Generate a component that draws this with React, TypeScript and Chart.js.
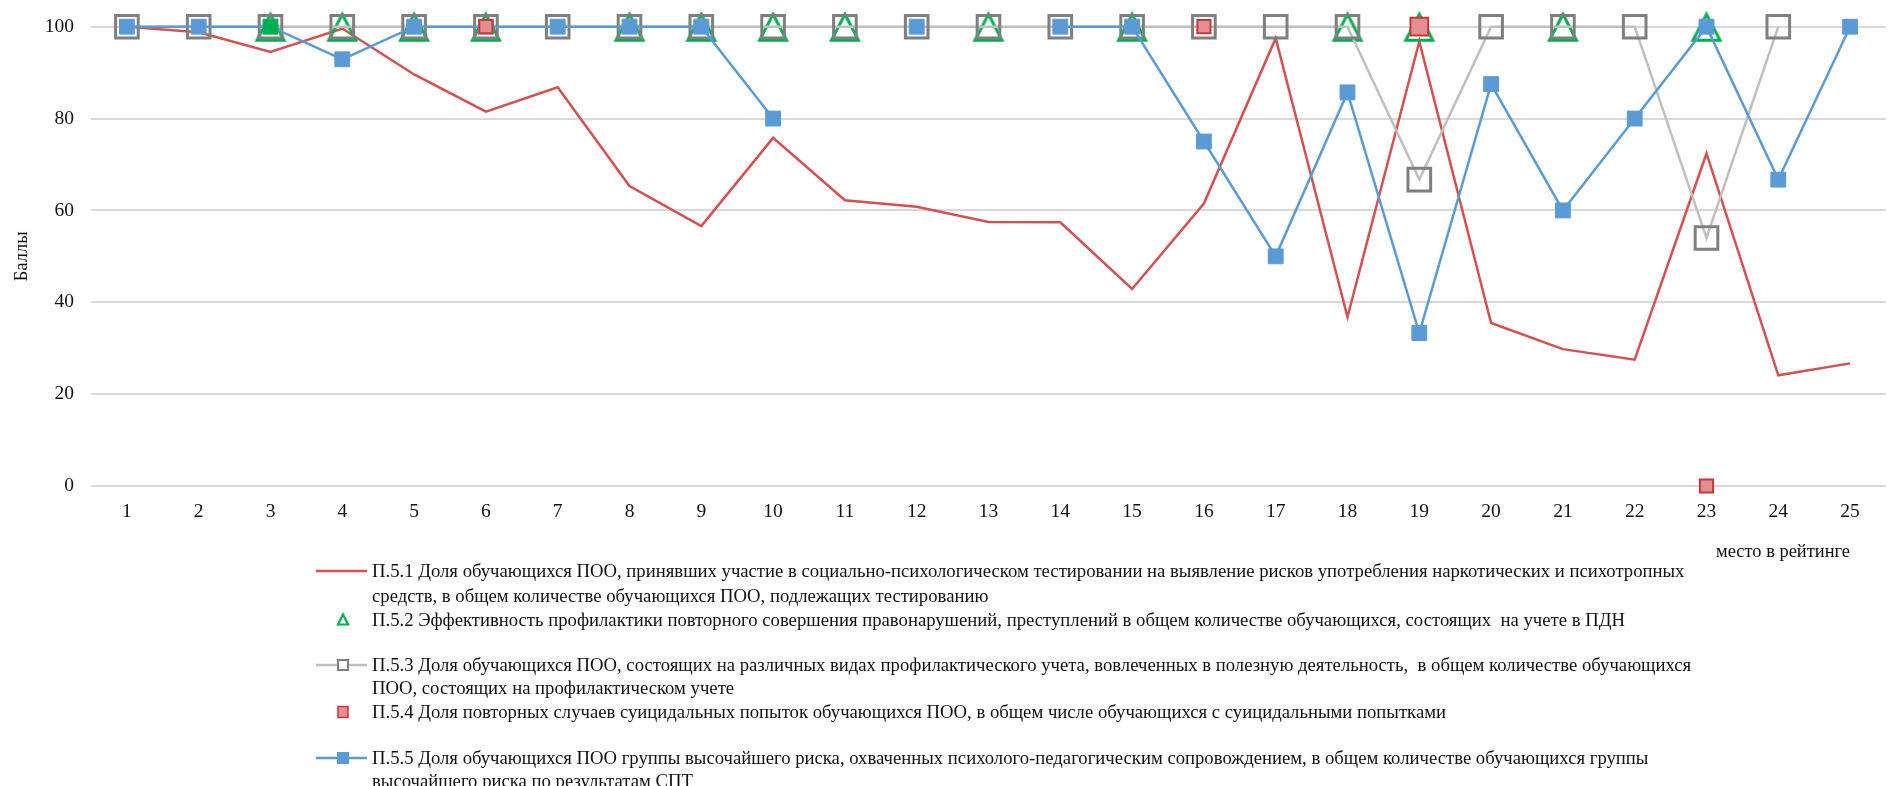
import React, { useEffect, useRef } from "react";
import { Chart, registerables } from "chart.js";

Chart.register(...registerables);

// ---------- data ----------
const places: string[] = [
  "1", "2", "3", "4", "5", "6", "7", "8", "9", "10", "11", "12", "13",
  "14", "15", "16", "17", "18", "19", "20", "21", "22", "23", "24", "25",
];

const p51: (number | null)[] = [
  100, 98.8, 94.5, 99.6, 89.6, 81.5, 86.8, 65.3, 56.6, 75.8, 62.2, 60.8, 57.5,
  57.4, 42.9, 61.5, 97.5, 36.8, 96.8, 35.5, 29.8, 27.5, 72.4, 24.1, 26.7,
];

const p52: (number | null)[] = [
  null, null, 100, 100, 100, 100, null, 100, 100, 100, 100, null, 100,
  null, 100, null, null, 100, 100, null, 100, null, 100, null, null,
];

const p53: (number | null)[] = [
  100, 100, 100, 100, 100, 100, 100, 100, 100, 100, 100, 100, 100,
  100, 100, 100, 100, 100, 66.7, 100, 100, 100, 54, 100, null,
];

const p54: (number | null)[] = [
  null, null, null, null, null, 100, null, null, null, null, null, null, null,
  null, null, 100, null, null, 100, null, null, null, 0, null, null,
];

const p55: (number | null)[] = [
  100, 100, 100, 92.9, 100, 100, 100, 100, 100, 80, null, 100, null,
  100, 100, 75, 50, 85.7, 33.3, 87.5, 60, 80, 100, 66.7, 100,
];

const yTicks: number[] = [0, 20, 40, 60, 80, 100];

const seriesNames: string[][] = [
  [
    "П.5.1 Доля обучающихся ПОО, принявших участие в социально-психологическом тестировании на выявление рисков употребления наркотических и психотропных",
    "средств, в общем количестве обучающихся ПОО, подлежащих тестированию",
  ],
  [
    "П.5.2 Эффективность профилактики повторного совершения правонарушений, преступлений в общем количестве обучающихся, состоящих  на учете в ПДН",
  ],
  [
    "П.5.3 Доля обучающихся ПОО, состоящих на различных видах профилактического учета, вовлеченных в полезную деятельность,  в общем количестве обучающихся",
    "ПОО, состоящих на профилактическом учете",
  ],
  [
    "П.5.4 Доля повторных случаев суицидальных попыток обучающихся ПОО, в общем числе обучающихся с суицидальными попытками",
  ],
  [
    "П.5.5 Доля обучающихся ПОО группы высочайшего риска, охваченных психолого-педагогическим сопровождением, в общем количестве обучающихся группы",
    "высочайшего риска по результатам СПТ",
  ],
];

const yTitle = "Баллы";
const xTitle = "место в рейтинге";

// ---------- styles ----------
const FONT = "'Liberation Serif', 'Times New Roman', serif";
const TEXT = "#111111";
const RED = "#d65050";
const GREEN = "#00b050";
const GREY_LINE = "#bfbfbf";
const GREY_MARK = "#7f7f7f";
const SQ_FILL = "#e38f8f";
const SQ_BORDER = "#c8363b";
const BLUE = "#5b9bd5";

const W = 1905;
const H = 786;
const LEGEND_FONT = 18.7;

function makeTriangle(color: string): HTMLCanvasElement {
  const c = document.createElement("canvas");
  c.width = 40;
  c.height = 40;
  const ctx = c.getContext("2d")!;
  ctx.strokeStyle = color;
  ctx.lineWidth = 3;
  ctx.lineJoin = "miter";
  ctx.beginPath();
  ctx.moveTo(20, 7.5);
  ctx.lineTo(33.5, 33.5);
  ctx.lineTo(6.5, 33.5);
  ctx.closePath();
  ctx.stroke();
  return c;
}

function Symbol({ kind }: { kind: number }) {
  const w = 51;
  const h = 20;
  const cx = 27;
  const cy = 10;
  if (kind === 0)
    return (
      <svg width={w} height={h}>
        <line x1={0} y1={cy} x2={w} y2={cy} stroke={RED} strokeWidth={2.5} />
      </svg>
    );
  if (kind === 1)
    return (
      <svg width={w} height={h}>
        <polygon
          points={`${cx},${cy - 5.5} ${cx + 5},${cy + 4.5} ${cx - 5},${cy + 4.5}`}
          fill="none"
          stroke={GREEN}
          strokeWidth={2.2}
        />
      </svg>
    );
  if (kind === 2)
    return (
      <svg width={w} height={h}>
        <line x1={0} y1={cy} x2={w} y2={cy} stroke={GREY_LINE} strokeWidth={2.5} />
        <rect x={cx - 5} y={cy - 5} width={10} height={10} fill="#fff" stroke={GREY_MARK} strokeWidth={2} />
      </svg>
    );
  if (kind === 3)
    return (
      <svg width={w} height={h}>
        <rect x={cx - 5} y={cy - 5.5} width={10} height={11} fill={SQ_FILL} stroke={SQ_BORDER} strokeWidth={1.5} />
      </svg>
    );
  return (
    <svg width={w} height={h}>
      <line x1={0} y1={cy} x2={w} y2={cy} stroke={BLUE} strokeWidth={2.5} />
      <rect x={cx - 6} y={cy - 6} width={12} height={12} fill={BLUE} />
    </svg>
  );
}

// legend line centers (px)
const legendRows: number[][] = [
  [571, 596],
  [620],
  [665, 688],
  [712],
  [758, 781],
];

export default function App() {
  const ref = useRef<HTMLCanvasElement | null>(null);

  useEffect(() => {
    if (!ref.current) return;
    const tri = makeTriangle(GREEN);
    const blueBg = p55.map((_, i) => (i === 2 ? GREEN : BLUE));
    const redRadius = p54.map((_, i) => (i === 18 ? 12.5 : 9.3));

    const chart = new Chart(ref.current, {
      type: "line",
      data: {
        labels: places,
        datasets: [
          {
            label: seriesNames[0].join(" "),
            data: p51,
            borderColor: RED,
            borderWidth: 2.5,
            pointRadius: 0,
            fill: false,
            tension: 0,
            clip: false,
            order: 4,
          },
          {
            label: seriesNames[1].join(" "),
            data: p52,
            showLine: false,
            pointStyle: tri as any,
            pointRadius: 14,
            clip: false,
            order: 3,
          },
          {
            label: seriesNames[2].join(" "),
            data: p53,
            borderColor: GREY_LINE,
            borderWidth: 2.5,
            pointStyle: "rect",
            pointRadius: 16,
            pointBorderWidth: 3,
            pointBorderColor: GREY_MARK,
            pointBackgroundColor: "rgba(0,0,0,0)",
            fill: false,
            tension: 0,
            clip: false,
            order: 2,
          },
          {
            label: seriesNames[3].join(" "),
            data: p54,
            showLine: false,
            pointStyle: "rect",
            pointRadius: redRadius,
            pointBorderWidth: 2,
            pointBorderColor: SQ_BORDER,
            pointBackgroundColor: SQ_FILL,
            clip: false,
            order: 0,
          },
          {
            label: seriesNames[4].join(" "),
            data: p55,
            borderColor: BLUE,
            borderWidth: 2.5,
            pointStyle: "rect",
            pointRadius: 10.5,
            pointBorderWidth: 1,
            pointBorderColor: blueBg,
            pointBackgroundColor: blueBg,
            fill: false,
            tension: 0,
            clip: false,
            order: 1,
          },
        ],
      },
      options: {
        responsive: false,
        animation: false,
        devicePixelRatio: 1,
        layout: { padding: { top: 26.7, left: 0, right: 0, bottom: 0 } },
        plugins: {
          legend: { display: false },
          tooltip: { enabled: false },
        },
        scales: {
          x: {
            type: "category",
            offset: true,
            grid: { display: false, drawTicks: false },
            border: { display: false },
            ticks: {
              font: { family: FONT, size: 19.5 },
              color: TEXT,
              padding: 14,
              maxRotation: 0,
              autoSkip: false,
            },
            afterFit: (s: any) => {
              s.height = 300;
              s.paddingLeft = 0;
              s.paddingRight = 0;
            },
          },
          y: {
            min: 0,
            max: 100,
            afterBuildTicks: (s: any) => {
              s.ticks = yTicks.map((v) => ({ value: v }));
            },
            ticks: {
              font: { family: FONT, size: 19.5 },
              color: TEXT,
              padding: 17,
            },
            grid: { color: "#d9d9d9", lineWidth: 2, drawTicks: false },
            border: { display: false },
            title: {
              display: true,
              text: yTitle,
              font: { family: FONT, size: 18.5 },
              color: TEXT,
              padding: { top: 11, bottom: 0 },
            },
            afterFit: (s: any) => {
              s.width = 91;
              s.paddingTop = 0;
              s.paddingBottom = 0;
            },
          },
        },
      },
    });
    return () => chart.destroy();
  }, []);

  return (
    <div
      style={{
        position: "fixed",
        left: 0,
        top: 0,
        width: 1903,
        height: H,
        overflow: "hidden",
        background: "#fff",
        fontFamily: FONT,
        color: TEXT,
      }}
    >
      <canvas ref={ref} width={W} height={H} style={{ position: "absolute", left: 0, top: 0 }} />
      <div
        style={{
          position: "absolute",
          left: 1716,
          top: 551 - 12,
          height: 24,
          lineHeight: "24px",
          fontSize: 18.45,
          whiteSpace: "pre",
        }}
      >
        {xTitle}
      </div>
      {seriesNames.map((lines, i) => (
        <React.Fragment key={i}>
          <div style={{ position: "absolute", left: 316, top: legendRows[i][0] - 10, height: 20 }}>
            <Symbol kind={i} />
          </div>
          {lines.map((t, j) => (
            <div
              key={j}
              style={{
                position: "absolute",
                left: 372,
                top: legendRows[i][j] - 12,
                height: 24,
                lineHeight: "24px",
                fontSize: LEGEND_FONT,
                whiteSpace: "pre",
              }}
            >
              {t}
            </div>
          ))}
        </React.Fragment>
      ))}
    </div>
  );
}
